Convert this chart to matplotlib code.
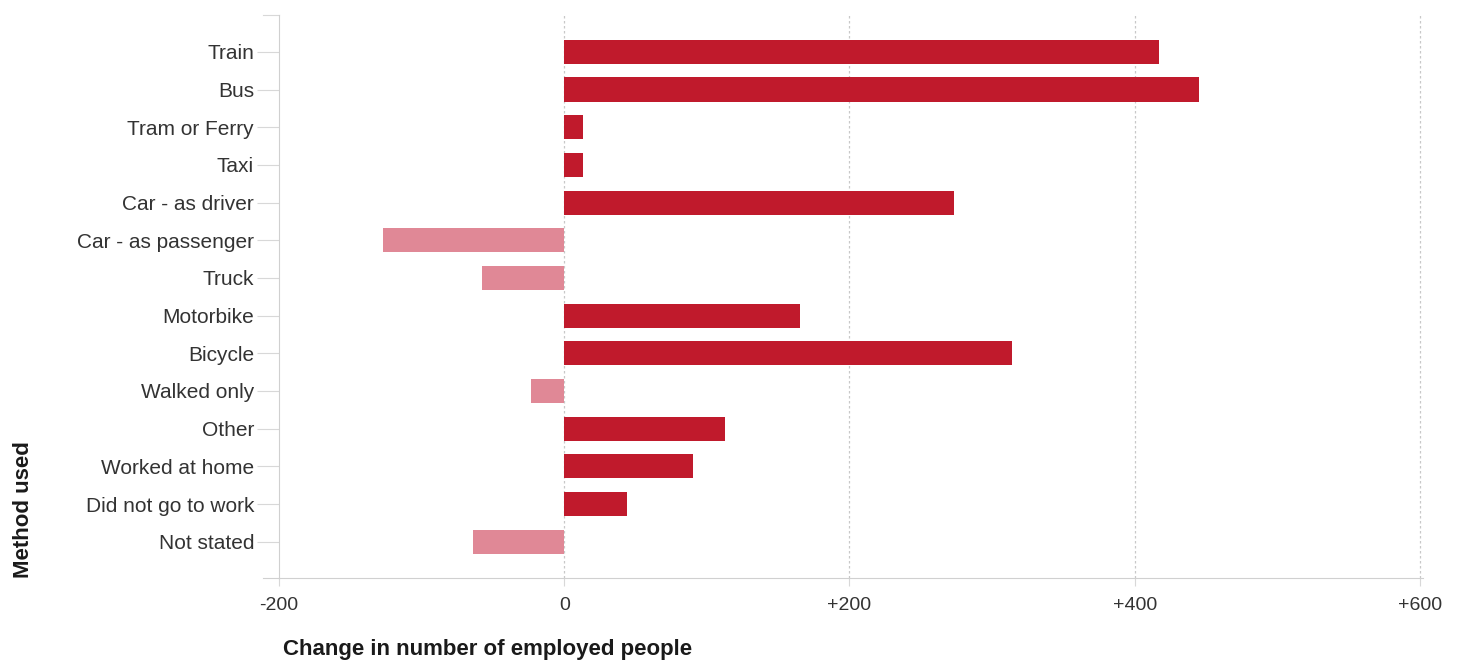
import matplotlib.pyplot as plt
from matplotlib.ticker import FuncFormatter

plt.rcParams['font.family'] = ['Liberation Sans', 'DejaVu Sans']

methods = ["Train", "Bus", "Tram or Ferry", "Taxi", "Car - as driver",
           "Car - as passenger", "Truck", "Motorbike", "Bicycle", "Walked only",
           "Other", "Worked at home", "Did not go to work", "Not stated"]
change = [417, 445, 13, 13, 273, -127, -58, 165, 314, -23, 113, 90, 44, -64]

pos_color = "#C01A2C"
neg_color = "#E08896"

fig = plt.figure(figsize=(14.57, 6.65), dpi=100)
ax = fig.add_axes([0.1915, 0.131, 0.785, 0.846])

colors = [pos_color if v >= 0 else neg_color for v in change]
ax.barh(range(len(methods)), change, height=0.64, color=colors, zorder=3)

ax.set_xlim(-200, 602)
ax.set_ylim(len(methods) - 0.04, -0.97)
ax.set_yticks(range(len(methods)))
ax.set_yticklabels(methods)
ax.set_xticks([-200, 0, 200, 400, 600])
ax.xaxis.set_major_formatter(FuncFormatter(lambda v, p: f"+{v:.0f}" if v > 0 else f"{v:.0f}"))

for x in [0, 200, 400, 600]:
    ax.axvline(x, color="#c8c8c8", lw=0.9, ls=(0, (2, 2)), zorder=1)

for s in ["top", "right"]:
    ax.spines[s].set_visible(False)
ax.spines["left"].set_color("#d0d0d0")
ax.spines["bottom"].set_color("#d0d0d0")
ax.tick_params(axis="y", length=16, color="#d8d8d8", labelsize=15, labelcolor="#333333", pad=2)
ax.tick_params(axis="x", length=6, color="#d8d8d8", labelsize=14, labelcolor="#333333", pad=8)

# small axis stubs past the corners, as in the original
ax.plot([-0.014, 0], [0, 0], transform=ax.transAxes, color="#d0d0d0", lw=0.8, clip_on=False)
ax.plot([-0.014, 0], [1, 1], transform=ax.transAxes, color="#d8d8d8", lw=0.8, clip_on=False)

fig.text(0.194, 0.008, "Change in number of employed people", fontsize=16,
         fontweight="bold", color="#1a1a1a", ha="left", va="bottom")
fig.text(0.016, 0.131, "Method used", fontsize=16, fontweight="bold", color="#1a1a1a",
         rotation=90, ha="center", va="bottom")

fig.savefig("out.png", dpi=100)
